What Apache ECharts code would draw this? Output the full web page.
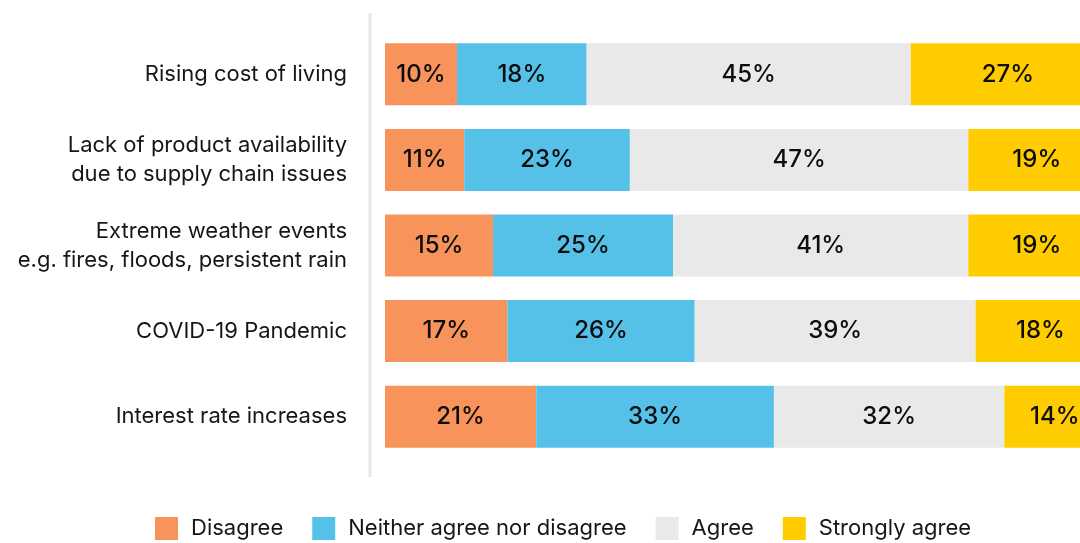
<!DOCTYPE html>
<html>
<head>
<meta charset="utf-8">
<script src="https://cdn.jsdelivr.net/npm/echarts@6/dist/echarts.min.js"></script>
<style>
html,body{margin:0;padding:0;background:#fff;}
#c{width:1080px;height:543px;}
</style>
</head>
<body>
<div id="c"></div>
<script>
const categories = [
  'Rising cost of living',
  'Lack of product availability\ndue to supply chain issues',
  'Extreme weather events\ne.g. fires, floods, persistent rain',
  'COVID-19 Pandemic',
  'Interest rate increases'
];
const seriesNames = ['Disagree', 'Neither agree nor disagree', 'Agree', 'Strongly agree'];
const disagree = [10, 11, 15, 17, 21];
const neither = [18, 23, 25, 26, 33];
const agree = [45, 47, 41, 39, 32];
const stronglyAgree = [27, 19, 19, 18, 14];
const colors = ['#F9935C', '#55C1E8', '#E9E9E9', '#FFCC00'];

const FONT = 'Inter, "Noto Sans", sans-serif';
const chart = echarts.init(document.getElementById('c'));
const allData = [disagree, neither, agree, stronglyAgree];

// The reference crops the chart at the right edge: 100% would reach past the canvas.
const visibleMax = 96.5;

chart.setOption({
  animation: false,
  color: colors,
  grid: { left: 385, top: 31.5, right: 0, height: 428, containLabel: false },
  xAxis: { type: 'value', min: 0, max: visibleMax, show: false },
  yAxis: {
    type: 'category',
    inverse: true,
    data: categories,
    axisLine: { show: false },
    axisTick: { show: false },
    splitLine: { show: false },
    axisLabel: {
      margin: 38,
      fontFamily: FONT,
      fontSize: 22,
      lineHeight: 29,
      color: '#161616',
      align: 'right'
    }
  },
  legend: {
    bottom: -2,
    left: 150,
    itemWidth: 23,
    itemHeight: 23,
    itemGap: 29,
    icon: 'rect',
    data: seriesNames,
    textStyle: { fontFamily: FONT, fontSize: 22, color: '#161616', padding: [0, 0, 0, 8] }
  },
  graphic: [{
    type: 'line',
    shape: { x1: 370, y1: 13, x2: 370, y2: 477 },
    style: { stroke: '#e6e6e6', lineWidth: 3 }
  }],
  series: seriesNames.map((name, i) => ({
    name: name,
    type: 'bar',
    stack: 'total',
    barWidth: 62,
    clip: false,
    data: allData[i],
    itemStyle: { color: colors[i] },
    label: {
      show: true,
      position: 'inside',
      formatter: '{c}%',
      fontFamily: FONT,
      fontSize: 24,
      fontWeight: 500,
      color: '#0d0d0d'
    }
  }))
});
</script>
</body>
</html>
